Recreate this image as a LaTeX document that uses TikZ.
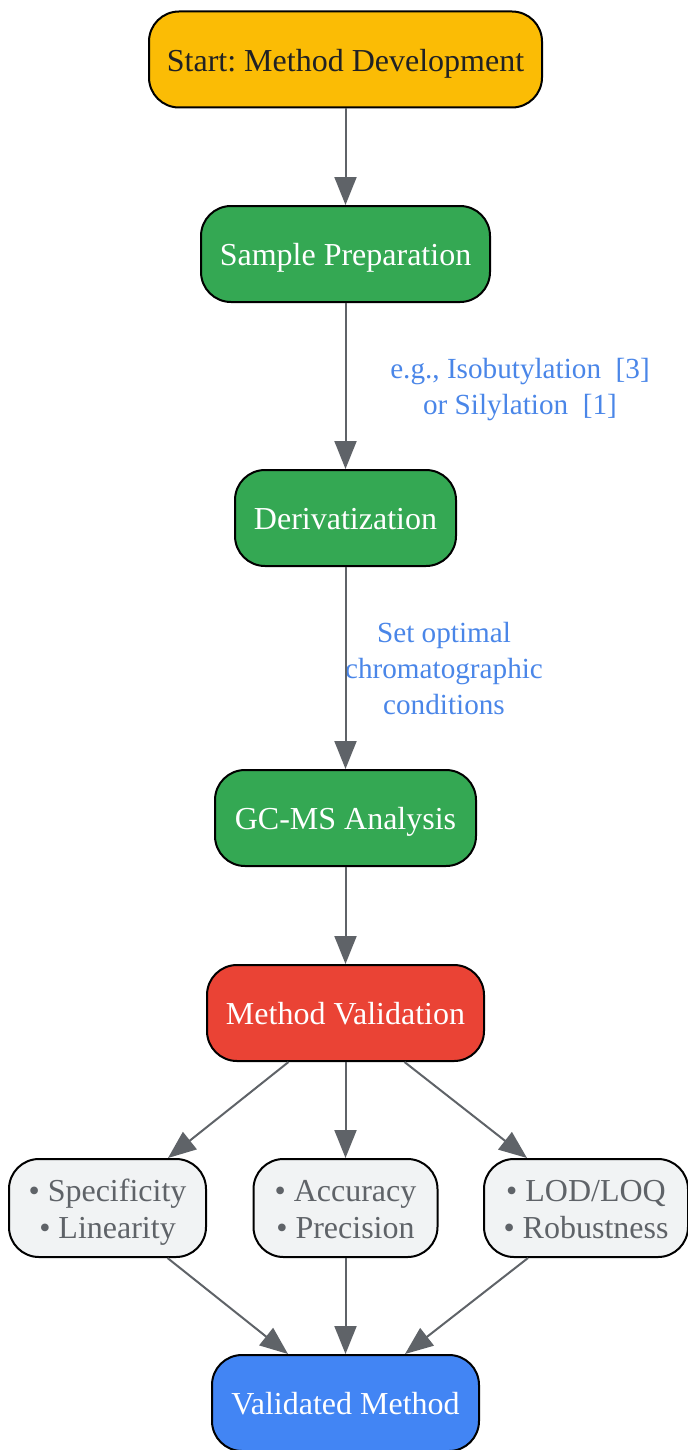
\documentclass[tikz,border=0pt]{standalone}
\usepackage{fontspec}
\setmainfont{Liberation Serif}
\usetikzlibrary{arrows.meta}
\definecolor{cyellow}{HTML}{FBBC05}
\definecolor{cgreen}{HTML}{34A853}
\definecolor{cred}{HTML}{EA4335}
\definecolor{cblue}{HTML}{4285F4}
\definecolor{cgrey}{HTML}{F1F3F4}
\definecolor{ctext}{HTML}{5F6368}
\definecolor{cdark}{HTML}{202124}
\definecolor{clabel}{HTML}{4A86E8}
\newcommand\boxtext[1]{\raisebox{-2.2pt}[\height][\depth]{\begin{tabular}{@{}c@{}}#1\end{tabular}}}
\tikzset{
  box/.style={draw=black, line width=1pt, rounded corners=15pt, minimum height=48pt,
    inner sep=0pt, align=center, font=\fontsize{16}{18.5}\selectfont\frenchspacing},
  ybox/.style={box, fill=cyellow, text=cdark},
  gbox/.style={box, fill=cgreen, text=white},
  rbox/.style={box, fill=cred, text=white},
  bbox/.style={box, fill=cblue, text=white},
  lbox/.style={box, fill=cgrey, text=ctext, minimum height=49pt},
  conn/.style={draw=ctext, line width=1pt, -{Triangle[length=14pt,width=11pt]}},
  elabel/.style={text=clabel, align=center, inner sep=0pt, font=\fontsize{14.6}{18}\selectfont}
}
\begin{document}
\begin{tikzpicture}[x=0.5pt,y=-0.5pt]
\useasboundingbox (0,0) rectangle (687,1450);
\node[ybox, minimum width=196.5pt] (start) at (345.5,59.5) {\boxtext{Start: Method Development}};
\node[gbox, minimum width=144.5pt] (prep) at (345.5,254) {\boxtext{Sample Preparation}};
\node[gbox, minimum width=110.5pt] (deriv) at (345.5,518) {\boxtext{Derivatization}};
\node[gbox, minimum width=130.5pt] (gcms) at (345.5,818) {\boxtext{GC-MS Analysis}};
\node[rbox, minimum width=138.5pt] (valid) at (345.5,1013) {\boxtext{Method Validation}};
\node[lbox, minimum width=98.5pt] (spec) at (107.5,1208) {\boxtext{• Specificity\\• Linearity}};
\node[lbox, minimum width=92pt] (acc) at (345.5,1208) {\boxtext{• Accuracy\\• Precision}};
\node[lbox, minimum width=102pt] (lod) at (586,1208) {\boxtext{• LOD/LOQ\\• Robustness}};
\node[bbox, minimum width=133.5pt] (final) at (345.5,1403) {\boxtext{Validated Method}};
\node[elabel] (l1) at (520,390) {e.g., Isobutylation\ \ [3]\\or Silylation\ \ [1]};
\node[elabel] (l2) at (444,669) {Set optimal\\chromatographic\\conditions};
\draw[conn] (start) -- (prep);
\draw[conn] (prep) -- (deriv);
\draw[conn] (deriv) -- (gcms);
\draw[conn] (gcms) -- (valid);
\draw[conn] (valid.south) ++(-57,0) -- (spec.north -| 168,0);
\draw[conn] (valid) -- (acc);
\draw[conn] (valid.south) ++(59,0) -- (lod.north -| 527,0);
\draw[conn] (spec.south) ++(60,0) -- (final.north -| 288,0);
\draw[conn] (acc) -- (final);
\draw[conn] (lod.south) ++(-58,0) -- (final.north -| 405,0);
\end{tikzpicture}
\end{document}
